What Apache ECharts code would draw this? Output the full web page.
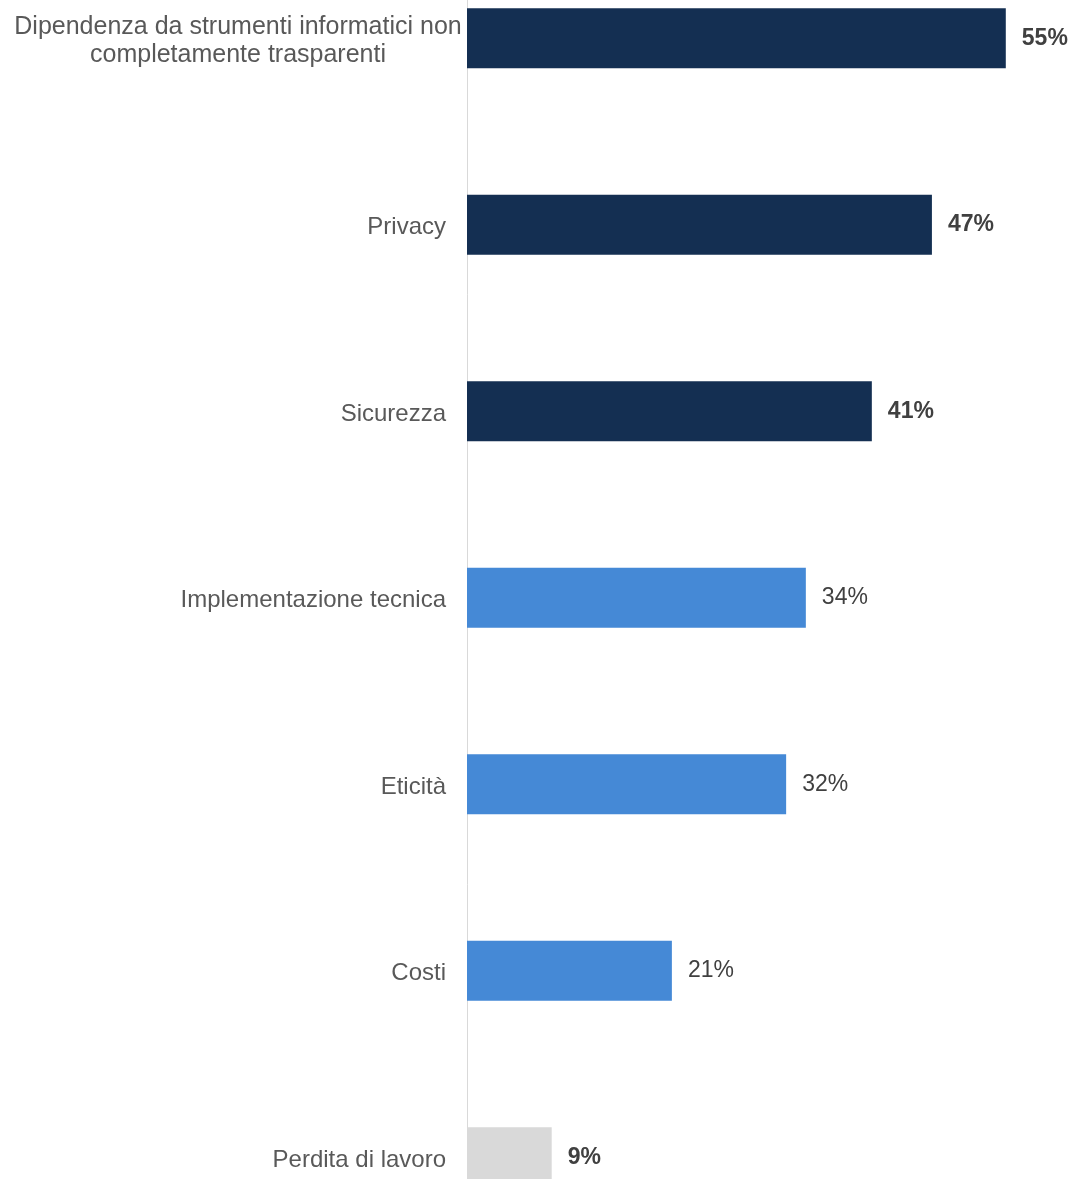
<!DOCTYPE html>
<html>
<head>
<meta charset="utf-8">
<script src="https://cdn.jsdelivr.net/npm/echarts@6/dist/echarts.min.js"></script>
<style>
html,body{margin:0;padding:0;background:#fff;}
#c{width:1074px;height:1179px;}
</style>
</head>
<body>
<div id="c"></div>
<script>
const categories = [
  'Dipendenza da strumenti informatici non\ncompletamente trasparenti',
  'Privacy',
  'Sicurezza',
  'Implementazione tecnica',
  'Eticità',
  'Costi',
  'Perdita di lavoro'
];
const values = [54.7, 47.2, 41.1, 34.4, 32.4, 20.8, 8.6];
const valueLabels = ['55%', '47%', '41%', '34%', '32%', '21%', '9%'];
const barColors = ['#142F52', '#142F52', '#142F52', '#4589D6', '#4589D6', '#4589D6', '#D9D9D9'];
const boldLabels = [true, true, true, false, false, false, true];

const chart = echarts.init(document.getElementById('c'));
const FONT = 'Liberation Sans, Arial, sans-serif';

chart.setOption({
  animation: false,
  grid: { left: 467, right: 16, top: -55, height: 1305.5, containLabel: false, outerBoundsMode: 'none' },
  xAxis: {
    type: 'value', min: 0, max: 60,
    show: false
  },
  yAxis: {
    type: 'category',
    inverse: true,
    data: categories,
    axisLine: { show: true, lineStyle: { color: '#D9D9D9', width: 1 } },
    axisTick: { show: false },
    splitLine: { show: false },
    axisLabel: {
      margin: 21,
      padding: [6, 0, 0, 0],
      color: '#595959',
      fontFamily: FONT,
      fontSize: 24,
      formatter: function (v) {
        if (v.indexOf('\n') >= 0) {
          return v.split('\n').map(function (s) { return '{c|' + s + '}'; }).join('\n');
        }
        return v;
      },
      rich: {
        c: { align: 'center', width: 416, color: '#595959', fontFamily: FONT, fontSize: 25, lineHeight: 28 }
      }
    }
  },
  series: [{
    type: 'bar',
    barWidth: 60,
    data: values.map(function (v, i) {
      return {
        value: v,
        itemStyle: { color: barColors[i] },
        label: { fontWeight: boldLabels[i] ? 'bold' : 'normal' }
      };
    }),
    label: {
      show: true,
      position: 'right',
      distance: 16,
      padding: [4, 0, 0, 0],
      color: '#404040',
      fontFamily: FONT,
      fontSize: 23,
      formatter: function (p) { return valueLabels[p.dataIndex]; }
    }
  }]
});
</script>
</body>
</html>
